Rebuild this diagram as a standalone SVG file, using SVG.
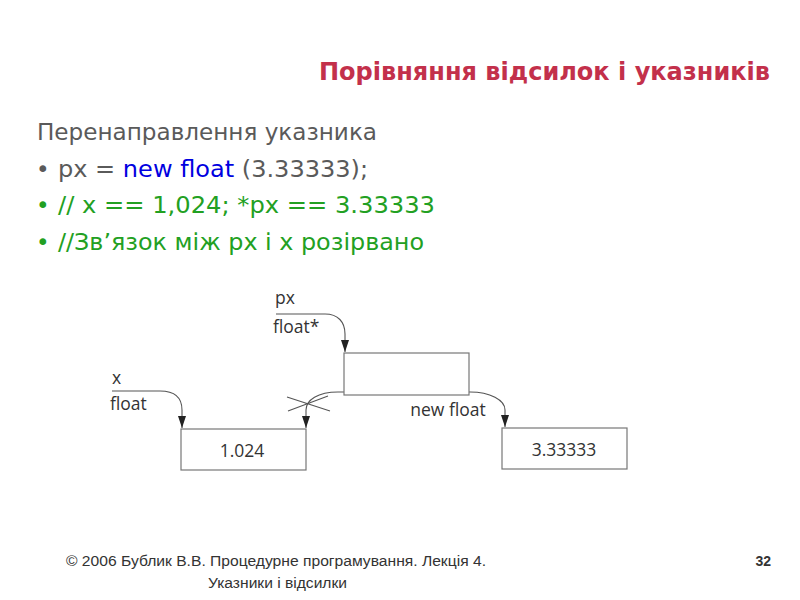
<svg xmlns="http://www.w3.org/2000/svg" width="800" height="600" viewBox="0 0 800 600">
<defs>
<style>
.title{font-family:"DejaVu Sans","Liberation Sans",sans-serif;font-weight:bold;font-size:24px;fill:#c3304b}
.body{font-family:"DejaVu Sans","Liberation Sans",sans-serif;font-size:23px;fill:#5a5a5a}
.green{fill:#22a022}
.blue{fill:#0000e0}
.foot{font-family:"Liberation Sans",Arial,sans-serif;font-size:14px;fill:#333}
.lbl{font-family:"Open Sans","DejaVu Sans",sans-serif;font-size:17.5px;fill:#333}
.box{fill:#fff;stroke:#777;stroke-width:1.2}
.conn{fill:none;stroke:#555;stroke-width:1.1}
</style>
<marker id="arr" viewBox="0 0 12 8" refX="12" refY="4" markerWidth="12" markerHeight="8" markerUnits="userSpaceOnUse" orient="auto">
<path d="M0,0 L12,4 L0,8 Z" fill="#222"/>
</marker>
</defs>
<rect width="800" height="600" fill="#fff"/>
<text class="title" x="770" y="80" text-anchor="end" textLength="451" lengthAdjust="spacingAndGlyphs">Порівняння відсилок і указників</text>
<text class="body" x="37" y="140" textLength="340" lengthAdjust="spacingAndGlyphs">Перенаправлення указника</text>
<text class="body" x="36" y="177">•</text>
<text class="body" x="58" y="177" textLength="310" lengthAdjust="spacingAndGlyphs">px = <tspan class="blue">new float</tspan> (3.33333);</text>
<text class="body green" x="36" y="213">•</text>
<text class="body green" x="58" y="213" textLength="377" lengthAdjust="spacingAndGlyphs">// x == 1,024; *px == 3.33333</text>
<text class="body green" x="36" y="250">•</text>
<text class="body green" x="58" y="250" textLength="366" lengthAdjust="spacingAndGlyphs">//Зв’язок між px і x розірвано</text>
<g id="connectors">
<path class="conn" d="M112,391 H160 C175,391 182,398 182,410 V428" marker-end="url(#arr)"/>
<path class="conn" d="M276,314 H325 C338,314 345,322 345,334 V352" marker-end="url(#arr)"/>
<path class="conn" d="M374,392 H338 C318,392 306,400 306,410 V428" marker-end="url(#arr)"/>
<path class="conn" d="M436,392 H470 C490,392 505,400 505,410 V427" marker-end="url(#arr)"/>
<path class="conn" d="M287,397 L330,411 M288,411 L328,396"/>
</g>
<g id="label-x"><text class="lbl" x="112" y="384">x</text><text class="lbl" x="110" y="410">float</text></g>
<g id="label-px"><text class="lbl" x="275" y="304">px</text><text class="lbl" x="273" y="333">float*</text></g>
<g id="node-x"><rect class="box" x="181" y="429" width="125" height="41"/><text class="lbl" x="242" y="457" text-anchor="middle">1.024</text></g>
<g id="node-px"><rect class="box" x="344" y="353" width="125" height="42"/></g>
<g id="node-new"><rect class="box" x="502" y="428" width="125" height="41"/><text class="lbl" x="564" y="456" text-anchor="middle">3.33333</text></g>
<g id="label-new"><text class="lbl" x="448" y="416" text-anchor="middle">new float</text></g>
<text class="foot" x="66" y="566" textLength="420" lengthAdjust="spacingAndGlyphs">© 2006 Бублик В.В. Процедурне програмування. Лекція 4.</text>
<text class="foot" x="208" y="588" textLength="139" lengthAdjust="spacingAndGlyphs">Указники і відсилки</text>
<text class="foot" x="771" y="566" text-anchor="end" font-weight="bold">32</text>
</svg>
